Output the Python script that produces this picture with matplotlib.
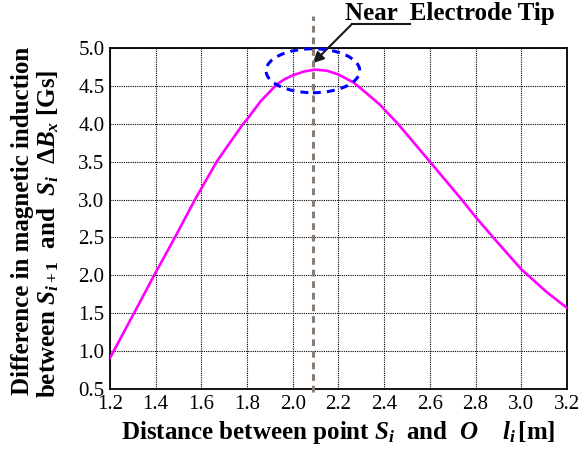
import numpy as np
import matplotlib
matplotlib.use("Agg")
from matplotlib import pyplot as plt
from matplotlib.patches import Ellipse

plt.rcParams['font.family'] = ['Liberation Serif', 'DejaVu Serif']
plt.rcParams['mathtext.fontset'] = 'custom'
plt.rcParams['mathtext.rm'] = 'Liberation Serif:bold'
plt.rcParams['mathtext.it'] = 'Liberation Serif:italic:bold'
plt.rcParams['mathtext.bf'] = 'Liberation Serif:bold'

# curve
dist = [1.20, 1.305, 1.393, 1.484, 1.572, 1.667, 1.72, 1.783, 1.80, 1.86,
        1.93, 1.965, 2.00, 2.05, 2.097, 2.15, 2.20, 2.266, 2.32, 2.382,
        2.40, 2.46, 2.53, 2.60, 2.739, 2.80, 2.877, 3.00, 3.111, 3.20]
dB = [0.91, 1.50, 2.00, 2.50, 3.00, 3.50, 3.73, 4.00, 4.06, 4.30,
      4.52, 4.59, 4.64, 4.69, 4.715, 4.70, 4.65, 4.545, 4.41, 4.25,
      4.19, 4.00, 3.75, 3.50, 3.00, 2.77, 2.50, 2.08, 1.78, 1.57]

xticks = [1.2, 1.4, 1.6, 1.8, 2.0, 2.2, 2.4, 2.6, 2.8, 3.0, 3.2]
yticks = [0.5, 1.0, 1.5, 2.0, 2.5, 3.0, 3.5, 4.0, 4.5, 5.0]

tip_x = 2.088          # electrode tip position
circle_c = (2.088, 4.70)
circle_w, circle_h = 0.41, 0.58

fig = plt.figure(figsize=(5.81, 4.55), dpi=100)
ax = fig.add_axes([0.1893, 0.145, 0.7866, 0.7495])

ax.plot(dist, dB, color='#ff00ff', lw=1.9, zorder=3)

ax.set_xlim(1.2, 3.2)
ax.set_ylim(0.5, 5.0)
ax.set_xticks(xticks)
ax.set_yticks(yticks)
ax.set_xticklabels(['%.1f' % v for v in xticks], fontsize=15)
ax.set_yticklabels(['%.1f' % v for v in yticks], fontsize=15)
ax.tick_params(length=0, pad=4)
ax.grid(True, color='black', ls=(0, (1, 1)), lw=0.8)
for s in ax.spines.values():
    s.set_linewidth(1.3)

# dashed tip line, running past the axes
ax.plot([tip_x, tip_x], [0.46, 5.42], color='#8c7d73', lw=2.2,
        ls=(0, (2.2, 1.6)), clip_on=False, zorder=4)

ax.add_patch(Ellipse(circle_c, circle_w, circle_h, fill=False, ec='#0000ff',
                     lw=2.2, ls=(0, (2.6, 2.0)), clip_on=False, zorder=5))

ax.annotate('', xy=(tip_x, 4.80), xytext=(2.259, 5.316),
            arrowprops=dict(arrowstyle='-|>', color='#1a1a1a', lw=1.5,
                            mutation_scale=16, shrinkA=0, shrinkB=0),
            annotation_clip=False)
ax.plot([2.259, 2.513], [5.316, 5.316], color='#1a1a1a', lw=1.5, clip_on=False)
ax.text(2.228, 5.37, 'Near  Electrode Tip', fontsize=18, fontweight='bold',
        va='baseline', ha='left', clip_on=False)

ax.set_xlabel(r'Distance between point $S_i$  and  $O$    $l_i\,$[m]',
              fontsize=18, fontweight='bold', labelpad=4)

fig.text(0.038, 0.514, 'Difference in magnetic induction', rotation=90,
         fontsize=18, fontweight='bold', ha='center', va='center')
fig.text(0.083, 0.486, r'between $S_{i+1}$  and  $S_i$  $\Delta B_x$ [Gs]',
         rotation=90, fontsize=18, fontweight='bold', ha='center', va='center')

fig.savefig('out.png', dpi=100)
